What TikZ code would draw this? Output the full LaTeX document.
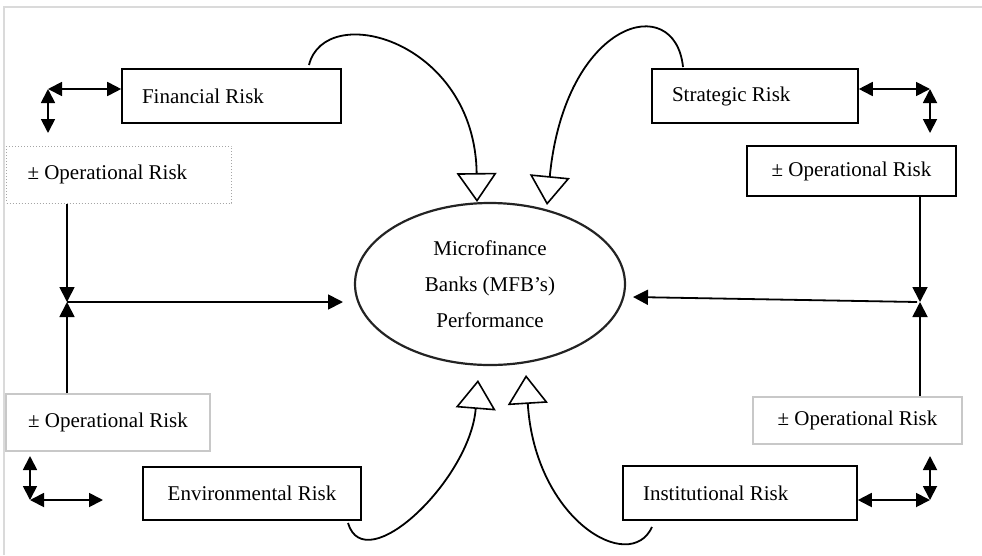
\documentclass[tikz,border=0pt]{standalone}
\usepackage{fontspec}
\setmainfont{Liberation Serif}
\usetikzlibrary{arrows.meta,shapes.geometric}
\definecolor{framecol}{RGB}{218,218,218}
\definecolor{greyedge}{RGB}{200,200,200}
\definecolor{dotedge}{RGB}{165,165,165}
\definecolor{ellcol}{RGB}{35,35,35}
\tikzset{
  riskfont/.style={font=\fontsize{21}{25}\selectfont},
  riskbox/.style={riskfont, draw=black, line width=1.6pt, inner ysep=0pt},
  greybox/.style={riskfont, draw=greyedge, line width=1.6pt, inner ysep=0pt},
  dotbox/.style={riskfont, draw=dotedge, dotted, line width=1pt, inner ysep=0pt},
  link/.style={line width=1.8pt, -{Triangle[length=15pt,width=15pt]}},
  twoway/.style={line width=1.8pt, {Triangle[length=14pt,width=14pt]}-{Triangle[length=14pt,width=14pt]}},
  swoop/.style={line width=1.8pt, -{Triangle[open,length=29pt,width=40pt,line width=1.6pt]}},
}
\begin{document}
\begin{tikzpicture}[x=1pt,y=-1pt]
  \useasboundingbox (0,0) rectangle (982,555);
  % Frame
  \draw [framecol, line width=2pt] (4,555) -- (4,7) -- (982,7);
%%
  % Node: MFB performance
  \node (mfb) [ellipse, draw=ellcol, line width=2.2pt, minimum width=270pt, minimum height=162pt,
    inner sep=0pt, align=center, font=\fontsize{21}{36}\selectfont]
    at (490,284) {Microfinance\\Banks (MFB’s)\\Performance};
  % Node: risk boxes
  \node (fin) [riskbox, text width=179pt, inner xsep=20pt, minimum height=54pt, align=flush left] at (231.5,96) {Financial Risk};
  \node (strat) [riskbox, text width=166pt, inner xsep=20pt, minimum height=54pt, align=flush left] at (755,96) {Strategic Risk};
  \node (env) [riskbox, minimum width=218pt, minimum height=53pt] at (252,493.5) {Environmental Risk};
  \node (inst) [riskbox, text width=194pt, inner xsep=20pt, minimum height=54pt, align=flush left] at (740,493) {Institutional Risk};
  % Node: operational risk boxes
  \node (opTL) [dotbox, text width=183pt, inner xsep=21pt, minimum height=57pt, align=flush left] at (119,174.5) {± Operational Risk};
  \node (opTR) [riskbox, minimum width=209pt, minimum height=50pt] at (851.5,171) {± Operational Risk};
  \node (opBL) [greybox, minimum width=204pt, minimum height=57pt] at (108,422.5) {± Operational Risk};
  \node (opBR) [greybox, minimum width=209pt, minimum height=47pt] at (857.5,420.5) {± Operational Risk};
%%
  % Corners and junctions
  \coordinate (cTL) at (48,89);
  \coordinate (cTLend) at (48,133);
  \coordinate (cTR) at (930,89);
  \coordinate (cTRend) at (930,133);
  \coordinate (cBL) at (30,500);
  \coordinate (cBLup) at (30,456);
  \coordinate (cBLend) at (103,500);
  \coordinate (cBR) at (930,500);
  \coordinate (cBRup) at (930,456);
  \coordinate (jL) at (67,302);
  \coordinate (jR) at (920,302);
  \coordinate (tipL) at (343,302);
  \coordinate (tipR) at (633,297);
  % Edge: operational <-> risk
  \draw [twoway] (cTL) -- (cTL -| fin.west);
  \draw [twoway] (cTL) -- (cTLend);
  \draw [twoway] (strat.east |- cTR) -- (cTR);
  \draw [twoway] (cTR) -- (cTRend);
  \draw [twoway] (cBL) -- (cBLup);
  \draw [twoway] (cBL) -- (cBLend);
  \draw [twoway] (inst.east |- cBR) -- (cBR);
  \draw [twoway] (cBR) -- (cBRup);
  % Edge: operational -> junctions -> mfb
  \draw [link] (jL |- opTL.south) -- (jL);
  \draw [link] (jL |- opBL.north) -- (jL);
  \draw [link] (jL) -- (tipL);
  \draw [link] (jR |- opTR.south) -- (jR);
  \draw [link] (jR |- opBR.north) -- (jR);
  \draw [link] ([xshift=-3pt]jR) -- (tipR);
  % Edge: risks -> mfb
  \coordinate (finOut) at (309,65);
  \coordinate (stratOut) at (683,67);
  \coordinate (envOut) at (348,523);
  \coordinate (instOut) at (652,527);
  \draw [swoop] (finOut) .. controls (325,0) and (475,40) .. (477,202);
  \draw [swoop] (stratOut) .. controls (675,-10) and (565,20) .. (547,205);
  \draw [swoop] (envOut) .. controls (365,580) and (470,480) .. (478,380);
  \draw [swoop] (instOut) .. controls (630,575) and (535,520) .. (526,375);
%
\end{tikzpicture}
\end{document}
